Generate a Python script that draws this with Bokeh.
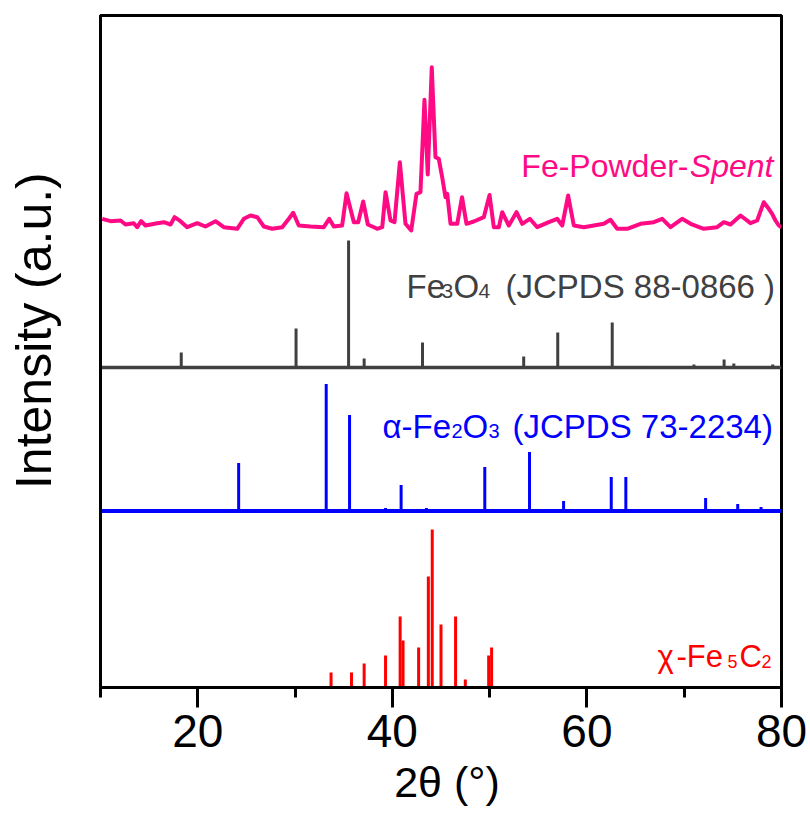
from bokeh.plotting import figure
from bokeh.models import Label, FixedTicker
from bokeh.embed import file_html
from bokeh.resources import INLINE

# ---------------- data ----------------
spent_x = [10.17, 11.03, 12.06, 12.57, 13.42, 13.77, 14.18, 14.63, 15.83, 16.51, 17.20, 17.61,
           18.22, 18.91, 19.94, 20.79, 21.82, 22.67, 24.05, 24.73, 25.42, 26.11, 26.79, 27.65,
           28.68, 29.36, 29.81, 30.38, 31.59, 32.95, 33.51, 33.98, 34.84, 35.29, 36.04, 36.49,
           37.00, 37.48, 38.44, 38.96, 39.30, 39.81, 40.22, 40.77, 41.35, 41.94, 42.48, 42.89,
           43.30, 43.64, 44.05, 44.43, 44.77, 45.12, 45.46, 45.64, 45.98, 46.67, 47.16, 47.62,
           48.37, 49.40, 49.99, 50.43, 50.94, 51.29, 51.97, 52.76, 53.35, 54.13, 54.89, 56.08,
           56.94, 57.46, 58.07, 58.65, 59.68, 60.71, 61.73, 62.42, 63.11, 64.14, 65.51, 66.87,
           67.74, 68.59, 69.79, 70.65, 72.01, 73.39, 74.07, 74.76, 75.79, 76.81, 77.50, 78.18,
           78.69, 79.04, 79.38, 79.72, 80.00]
spent_y = [468.7, 466.3, 467.0, 463.0, 464.3, 460.3, 466.3, 462.0, 464.3, 465.3, 463.0, 470.3,
           466.3, 460.3, 464.3, 461.0, 466.3, 460.3, 458.7, 468.7, 472.0, 470.3, 461.0, 458.7,
           460.3, 468.7, 474.7, 462.0, 461.0, 460.3, 468.7, 461.0, 462.0, 494.3, 465.3, 465.3,
           486.0, 463.0, 458.7, 460.3, 495.3, 467.0, 465.3, 525.3, 463.7, 457.0, 493.7, 495.3,
           587.7, 513.0, 620.3, 530.3, 528.7, 510.3, 490.3, 493.7, 463.7, 463.7, 490.3, 463.7,
           466.0, 470.3, 492.5, 460.3, 460.3, 475.3, 462.0, 475.3, 463.7, 468.7, 460.3, 465.3,
           468.7, 462.0, 492.0, 462.0, 460.3, 462.0, 463.7, 467.7, 458.7, 458.7, 463.7, 465.3,
           468.7, 460.3, 468.7, 463.7, 458.7, 460.3, 465.3, 463.0, 472.0, 464.3, 467.0, 485.3,
           478.7, 473.7, 467.0, 462.0, 460.0]

fe3o4_pos = [18.3, 30.1, 35.5, 37.1, 43.1, 53.5, 57.0, 62.6, 65.8, 71.0, 74.1, 75.1, 79.1]
fe3o4_int = [15, 39, 127, 9, 25, 11, 35, 45, 1, 3, 8, 4, 3]

fe2o3_pos = [24.2, 33.2, 35.6, 39.3, 40.9, 43.5, 49.5, 54.1, 57.6, 62.5, 64.0, 69.8, 72.2, 75.5, 77.9, 78.9]
fe2o3_int = [48, 127, 96, 3, 26, 3, 44, 59, 10, 34, 34, 2, 13, 7, 4, 2]

fe5c2_pos = [33.7, 35.8, 37.1, 39.3, 40.8, 41.1, 42.7, 43.7, 44.1, 45.0, 46.5, 47.5, 49.9, 50.2]
fe5c2_int = [15, 15, 24, 32, 71, 47, 40, 111, 158, 63, 71, 8, 32, 40]

x_ticks = [20, 40, 60, 80]
x_minor_ticks = [10, 30, 50, 70]
x_title = "\u00a02θ (°)"
y_title = "\u00a0\u00a0\u00a0Intensity (a.u.)"

# ---------------- layout / style ----------------
FE3O4_BASE = 320
FE2O3_BASE = 176.5
FE5C2_BASE = 0
PINK = "#FF0A85"
GRAY = "#404040"
BLUE = "#0000FF"
RED = "#FF0000"
FONT = "Liberation Sans"

p = figure(width=810, height=823, x_range=(10, 80), y_range=(0, 672),
           output_backend="svg", toolbar_location=None,
           min_border_left=100, min_border_right=29, min_border_top=15, min_border_bottom=136)
p.background_fill_color = "white"
p.border_fill_color = "white"
p.outline_line_color = "black"
p.outline_line_width = 3
p.xgrid.visible = False
p.ygrid.visible = False

ax = p.xaxis[0]
ax.ticker = FixedTicker(ticks=x_ticks, minor_ticks=x_minor_ticks)
ax.axis_line_width = 3
ax.axis_line_color = "black"
ax.major_tick_line_width = 3
ax.minor_tick_line_width = 3
ax.major_tick_out = 20
ax.major_tick_in = 0
ax.minor_tick_out = 10
ax.minor_tick_in = 0
ax.major_label_text_font = FONT
ax.major_label_text_font_size = "46px"
ax.major_label_text_color = "black"
ax.major_label_standoff = 7
ax.axis_label = x_title
ax.axis_label_text_font = FONT
ax.axis_label_text_font_size = "43px"
ax.axis_label_text_font_style = "normal"
ax.axis_label_text_color = "black"
ax.axis_label_standoff = 8

ay = p.yaxis[0]
ay.ticker = FixedTicker(ticks=[])
ay.axis_line_width = 3
ay.axis_line_color = "black"
ay.major_tick_line_color = None
ay.minor_tick_line_color = None
ay.major_label_text_font_size = "0px"
ay.axis_label = y_title
ay.axis_label_text_font = FONT
ay.axis_label_text_font_size = "50px"
ay.axis_label_text_font_style = "normal"
ay.axis_label_text_color = "black"
ay.axis_label_standoff = 39

# spent pattern
p.line(spent_x, spent_y, line_color=PINK, line_width=4, line_join="round")

# reference sticks
p.segment(x0=[10], y0=[FE3O4_BASE], x1=[80], y1=[FE3O4_BASE], line_color=GRAY, line_width=3.5)
p.segment(x0=fe3o4_pos, y0=[FE3O4_BASE] * len(fe3o4_pos), x1=fe3o4_pos,
          y1=[FE3O4_BASE + v for v in fe3o4_int], line_color=GRAY, line_width=3)

p.segment(x0=[10], y0=[FE2O3_BASE], x1=[80], y1=[FE2O3_BASE], line_color=BLUE, line_width=4)
p.segment(x0=fe2o3_pos, y0=[FE2O3_BASE] * len(fe2o3_pos), x1=fe2o3_pos,
          y1=[FE2O3_BASE + v for v in fe2o3_int], line_color=BLUE, line_width=3)

p.segment(x0=fe5c2_pos, y0=[FE5C2_BASE] * len(fe5c2_pos), x1=fe5c2_pos,
          y1=[FE5C2_BASE + v for v in fe5c2_int], line_color=RED, line_width=3)


def px2t(px):
    return 10 + (px - 100) / 9.7286


def lab(text, px, base_py, size, color, align="left", style="normal", font=FONT):
    y = 687 - base_py + 0.36 * size
    p.add_layout(Label(x=px2t(px), y=y, text=text, text_font=font,
                       text_font_size=f"{size}px", text_color=color, text_align=align,
                       text_baseline="alphabetic", text_font_style=style))


# Fe-Powder-Spent
lab("Fe-Powder-", 688, 177, 32, PINK, align="right")
lab("Spent", 773, 177, 32, PINK, align="right", style="italic")

# Fe3O4
lab("Fe", 406, 298, 33, GRAY)
lab("3", 441, 298, 21, GRAY)
lab("O", 453, 298, 33, GRAY)
lab("4", 478, 298, 21, GRAY)
lab("(JCPDS 88-0866 )", 505, 298, 33, GRAY)

# alpha-Fe2O3
lab("α", 382, 438, 33, BLUE)
lab("-Fe", 401, 438, 33, BLUE)
lab("2", 451, 438, 20, BLUE)
lab("O", 462, 438, 33, BLUE)
lab("3", 488, 438, 20, BLUE)
lab("(JCPDS 73-2234)", 512, 438, 33, BLUE)

# chi-Fe5C2
lab("χ", 657, 667, 31, RED)
lab("-Fe", 676, 667, 31, RED)
lab("5", 727, 667, 18, RED)
lab("C", 739, 667, 31, RED)
lab("2", 761, 667, 18, RED)

open("out.html", "w").write(file_html(p, INLINE))
